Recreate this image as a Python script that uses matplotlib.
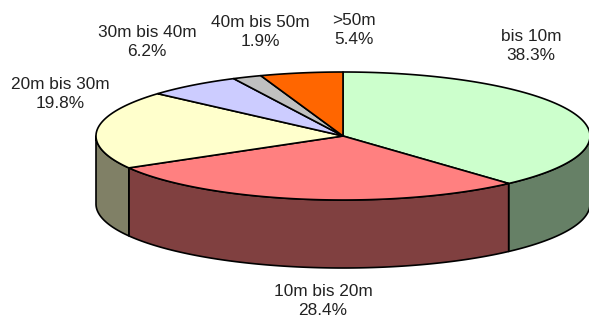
import numpy as np
import matplotlib
matplotlib.use("Agg")
import matplotlib.pyplot as plt

plt.rcParams["font.family"] = ["Liberation Sans", "DejaVu Sans"]

# shares, clockwise from 12 o'clock
categories = ["bis 10m", "10m bis 20m", "20m bis 30m", "30m bis 40m", "40m bis 50m", ">50m"]
shares = [38.3, 28.4, 19.8, 6.2, 1.9, 5.4]
top_colors = ["#CCFFCC", "#FF8080", "#FFFFCC", "#CCCCFF", "#C0C0C0", "#FF6600"]
side_colors = ["#668066", "#804040", "#808066", "#666680", "#606060", "#803300"]

# label centres in pixels
label_x = [531, 323, 60, 147, 260, 354]
label_y = [46, 301, 94, 42, 32, 30]

CX, CY = 343, 136
RX, RY = 247, 64
DEPTH = 68

W, H = 589, 320
fig = plt.figure(figsize=(W / 100, H / 100), dpi=100)
ax = fig.add_axes([0, 0, 1, 1])
ax.set_xlim(0, W)
ax.set_ylim(H, 0)
ax.axis("off")


def arc(a0, a1):
    t = np.radians(np.linspace(a0, a1, max(int(abs(a1 - a0) * 2), 2)))
    return CX + RX * np.sin(t), CY - RY * np.cos(t)


edges = np.concatenate([[0], np.cumsum(shares)]) / sum(shares) * 360

# rim: only the part of each slice on the front half (90..270 deg) shows
for i in range(len(shares)):
    a0, a1 = max(edges[i], 90), min(edges[i + 1], 270)
    if a1 <= a0:
        continue
    x, y = arc(a0, a1)
    ax.fill(np.r_[x, x[::-1]], np.r_[y, y[::-1] + DEPTH],
            facecolor=side_colors[i], edgecolor="black", lw=1.2, joinstyle="round")

# top face
for i in range(len(shares)):
    x, y = arc(edges[i], edges[i + 1])
    ax.fill(np.r_[CX, x], np.r_[CY, y],
            facecolor=top_colors[i], edgecolor="black", lw=1.2, joinstyle="round")

for i, name in enumerate(categories):
    ax.text(label_x[i], label_y[i], f"{name}\n{shares[i]:.1f}%", ha="center", va="center",
            fontsize=12.4, color="#222222", linespacing=1.37)

fig.savefig("out.png", dpi=100)
